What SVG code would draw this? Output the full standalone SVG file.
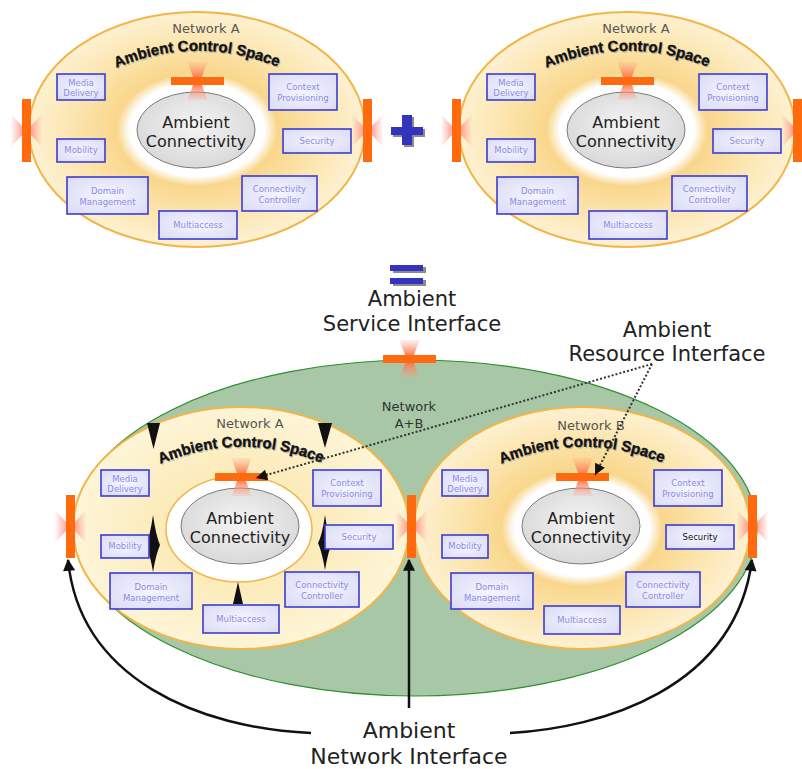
<svg xmlns="http://www.w3.org/2000/svg" xmlns:xlink="http://www.w3.org/1999/xlink" width="802" height="769" viewBox="0 0 802 769">
<style>
.t{font-family:"DejaVu Sans",Verdana,sans-serif;text-anchor:middle}
.big{font-size:21px;fill:#222}
.nb{font-size:22px;fill:#222}
.net{font-size:13px;fill:#555}
.ac{font-size:16px;fill:#222}
.bx rect{fill:url(#boxG);stroke:#3c3cd2;stroke-width:1.6}
.bx text{font-family:"DejaVu Sans",Verdana,sans-serif;font-size:8.5px;fill:#8c8ce6;text-anchor:middle}
.acs{font-family:"Liberation Sans",Arial,sans-serif;font-weight:bold;font-size:15px;text-anchor:middle}
.bar{fill:#ff6a0e}
.gray{fill:url(#grayG);stroke:#7a7a7a;stroke-width:1}
.outer{stroke:#f3b448;stroke-width:2}
.dot{fill:none;stroke:#333;stroke-width:2;stroke-dasharray:2 2}
.arc{fill:none;stroke:#111;stroke-width:2.5}
</style>
<defs>
<radialGradient id="outerG" cx="0.5" cy="0.5" r="0.5">
<stop offset="0" stop-color="#fff"/><stop offset="0.40" stop-color="#fff"/><stop offset="0.48" stop-color="#f9d68c"/><stop offset="0.65" stop-color="#fbe0a2"/><stop offset="0.88" stop-color="#fdecc2"/><stop offset="1" stop-color="#fdf1d2"/>
</radialGradient>
<radialGradient id="outerPale" cx="0.5" cy="0.5" r="0.5">
<stop offset="0" stop-color="#fdf0c4"/><stop offset="0.5" stop-color="#fcecbc"/><stop offset="1" stop-color="#fdf5d8"/>
</radialGradient>
<radialGradient id="grayG" cx="0.5" cy="0.45" r="0.6">
<stop offset="0" stop-color="#f5f5f5"/><stop offset="1" stop-color="#d6d6d6"/>
</radialGradient>
<radialGradient id="boxG" cx="0.5" cy="0.5" r="0.7">
<stop offset="0" stop-color="#f5f5ff"/><stop offset="1" stop-color="#dadaf6"/>
</radialGradient>
<linearGradient id="vGlow" x1="0" y1="0" x2="0" y2="1">
<stop offset="0" stop-color="#ff9a80" stop-opacity="0.15"/><stop offset="0.35" stop-color="#ff7a50" stop-opacity="0.85"/><stop offset="0.5" stop-color="#ff5a1e"/><stop offset="0.65" stop-color="#ff7a50" stop-opacity="0.85"/><stop offset="1" stop-color="#ff9a80" stop-opacity="0.15"/>
</linearGradient>
<linearGradient id="hGlow" x1="0" y1="0" x2="1" y2="0">
<stop offset="0" stop-color="#ff9090" stop-opacity="0"/><stop offset="0.42" stop-color="#ff7a60" stop-opacity="0.8"/><stop offset="0.58" stop-color="#ff7a60" stop-opacity="0.8"/><stop offset="1" stop-color="#ff9090" stop-opacity="0"/>
</linearGradient>
<path id="hg" d="M-10,-19 L10,-19 L3,0 L10,19 L-10,19 L-3,0 Z" fill="url(#vGlow)"/>
<path id="bt" d="M-16,-17 L-4,-4 L4,-4 L16,-17 L16,17 L4,4 L-4,4 L-16,17 Z" fill="url(#hGlow)"/>
<path id="arcA" d="M116,68 Q196,34 278,67"/>
<marker id="ah" viewBox="0 0 10 10" refX="10" refY="5" markerWidth="13" markerHeight="11" markerUnits="userSpaceOnUse" orient="auto"><path d="M0,0 L10,5 L0,10 Z" fill="#111"/></marker>
<marker id="ah2" viewBox="0 0 10 10" refX="9" refY="5" markerWidth="14" markerHeight="12" markerUnits="userSpaceOnUse" orient="auto"><path d="M0,0 L10,5 L0,10 Z" fill="#111"/></marker>
</defs>
<rect width="802" height="769" fill="#fff"/>

<!-- Network A top-left -->
<g id="net-tl">
<ellipse class="outer" cx="197" cy="129.5" rx="168" ry="117.5" fill="url(#outerG)"/>
<ellipse class="gray" cx="196" cy="130" rx="59" ry="38"/>
<text class="t ac" x="196" y="128">Ambient</text>
<text class="t ac" x="196" y="147">Connectivity</text>
<use href="#hg" x="197.5" y="81"/><rect class="bar" x="171" y="77" width="53" height="8"/>
<use href="#bt" x="26.5" y="130.5"/><rect class="bar" x="22" y="99" width="9" height="63"/>
<use href="#bt" x="367.5" y="130.5"/><rect class="bar" x="363" y="99" width="9" height="63"/>
<text class="t net" x="206" y="33">Network A</text>
<text class="acs" fill="#999" opacity="0.6" transform="translate(1,1.5)"><textPath href="#arcA" startOffset="50%">Ambient Control Space</textPath></text>
<text class="acs" fill="#111" stroke="#111" stroke-width="0.4"><textPath href="#arcA" startOffset="50%">Ambient Control Space</textPath></text>
<g class="bx" id="tl-media"><rect x="57" y="74" width="48" height="26"/><text x="81" y="86">Media</text><text x="81" y="96">Delivery</text></g>
<g class="bx" id="tl-context"><rect x="269" y="74" width="68" height="36"/><text x="303" y="90">Context</text><text x="303" y="101">Provisioning</text></g>
<g class="bx" id="tl-mobility"><rect x="57" y="139" width="48" height="23"/><text x="81" y="153">Mobility</text></g>
<g class="bx" id="tl-security"><rect x="283" y="129" width="68" height="24"/><text x="317" y="144">Security</text></g>
<g class="bx" id="tl-domain"><rect x="67" y="177" width="81" height="37"/><text x="107.5" y="194">Domain</text><text x="107.5" y="205">Management</text></g>
<g class="bx" id="tl-cc"><rect x="242" y="176" width="75" height="35"/><text x="279.5" y="192">Connectivity</text><text x="279.5" y="203">Controller</text></g>
<g class="bx" id="tl-multi"><rect x="159" y="211" width="78" height="28"/><text x="198" y="228">Multiaccess</text></g>
</g>

<!-- Network A top-right -->
<g id="net-tr" transform="translate(430,0)">
<ellipse class="outer" cx="197" cy="129.5" rx="168" ry="117.5" fill="url(#outerG)"/>
<ellipse class="gray" cx="196" cy="130" rx="59" ry="38"/>
<text class="t ac" x="196" y="128">Ambient</text>
<text class="t ac" x="196" y="147">Connectivity</text>
<use href="#hg" x="197.5" y="81"/><rect class="bar" x="171" y="77" width="53" height="8"/>
<use href="#bt" x="26.5" y="130.5"/><rect class="bar" x="22" y="99" width="9" height="63"/>
<use href="#bt" x="367.5" y="130.5"/><rect class="bar" x="363" y="99" width="9" height="63"/>
<text class="t net" x="206" y="33">Network A</text>
<text class="acs" fill="#999" opacity="0.6" transform="translate(1,1.5)"><textPath href="#arcA" startOffset="50%">Ambient Control Space</textPath></text>
<text class="acs" fill="#111" stroke="#111" stroke-width="0.4"><textPath href="#arcA" startOffset="50%">Ambient Control Space</textPath></text>
<g class="bx" id="tr-media"><rect x="57" y="74" width="48" height="26"/><text x="81" y="86">Media</text><text x="81" y="96">Delivery</text></g>
<g class="bx" id="tr-context"><rect x="269" y="74" width="68" height="36"/><text x="303" y="90">Context</text><text x="303" y="101">Provisioning</text></g>
<g class="bx" id="tr-mobility"><rect x="57" y="139" width="48" height="23"/><text x="81" y="153">Mobility</text></g>
<g class="bx" id="tr-security"><rect x="283" y="129" width="68" height="24"/><text x="317" y="144">Security</text></g>
<g class="bx" id="tr-domain"><rect x="67" y="177" width="81" height="37"/><text x="107.5" y="194">Domain</text><text x="107.5" y="205">Management</text></g>
<g class="bx" id="tr-cc"><rect x="242" y="176" width="75" height="35"/><text x="279.5" y="192">Connectivity</text><text x="279.5" y="203">Controller</text></g>
<g class="bx" id="tr-multi"><rect x="159" y="211" width="78" height="28"/><text x="198" y="228">Multiaccess</text></g>
</g>

<!-- plus and equals -->
<g id="plus">
<rect x="393" y="129" width="32" height="8" fill="#8a8a8a"/><rect x="404" y="117" width="10" height="30" fill="#8a8a8a"/>
<rect x="391" y="127" width="32" height="8" fill="#3333bb"/><rect x="402" y="115" width="10" height="30" fill="#3333bb"/>
</g>
<g id="equals">
<rect x="393" y="267" width="33" height="6" fill="#8a8a8a"/><rect x="393" y="280" width="33" height="6" fill="#8a8a8a"/>
<rect x="390" y="265" width="33" height="6" fill="#3333bb"/><rect x="390" y="278" width="33" height="6" fill="#3333bb"/>
</g>

<!-- Network A+B -->
<g id="net-ab">
<ellipse cx="415" cy="528" rx="342" ry="168" fill="#a7c7a7" stroke="#2f8f2f" stroke-width="1.2"/>
<text class="t net" x="409" y="411" fill="#333" style="fill:#333">Network</text>
<text class="t net" x="409" y="428" style="fill:#333">A+B</text>
</g>

<!-- Network A bottom-left -->
<g id="net-bl" transform="translate(44,396)">
<ellipse class="outer" cx="197" cy="132" rx="168" ry="121" fill="url(#outerPale)"/>
<ellipse cx="195" cy="133" rx="73" ry="53" fill="#fff" stroke="#f3b448" stroke-width="1.5"/>
<ellipse class="gray" cx="196" cy="130" rx="59" ry="38"/>
<text class="t ac" x="196" y="128">Ambient</text>
<text class="t ac" x="196" y="147">Connectivity</text>
<use href="#hg" x="197.5" y="81"/><rect class="bar" x="171" y="77" width="53" height="8"/>
<use href="#bt" x="26.5" y="130.5"/><rect class="bar" x="22" y="99" width="9" height="63"/>
<text class="t net" x="206" y="32">Network A</text>
<text class="acs" fill="#999" opacity="0.6" transform="translate(1,1.5)"><textPath href="#arcA" startOffset="50%">Ambient Control Space</textPath></text>
<text class="acs" fill="#111" stroke="#111" stroke-width="0.4"><textPath href="#arcA" startOffset="50%">Ambient Control Space</textPath></text>
<g id="bl-flows" fill="#111">
<path d="M103,27 L116,27 L109.5,53 Z"/>
<path d="M274,27 L288,27 L281,52 Z"/>
<path d="M109,119 Q112,140 116,149 Q112,158 109,176 Q106,158 102,149 Q106,140 109,119 Z"/>
<path d="M281,119 Q284,140 288,147 Q284,156 281,174 Q278,156 274,147 Q278,140 281,119 Z"/>
<path d="M194,186 L199,208 L189,208 Z"/>
</g>
<g class="bx" id="bl-media"><rect x="57" y="74" width="48" height="26"/><text x="81" y="86">Media</text><text x="81" y="96">Delivery</text></g>
<g class="bx" id="bl-context"><rect x="269" y="74" width="68" height="36"/><text x="303" y="90">Context</text><text x="303" y="101">Provisioning</text></g>
<g class="bx" id="bl-mobility"><rect x="57" y="139" width="48" height="23"/><text x="81" y="153">Mobility</text></g>
<g class="bx" id="bl-security"><rect x="281" y="129" width="68" height="24"/><text x="315" y="144">Security</text></g>
<g class="bx" id="bl-domain"><rect x="66" y="177" width="82" height="36"/><text x="107" y="194">Domain</text><text x="107" y="205">Management</text></g>
<g class="bx" id="bl-cc"><rect x="241" y="176" width="74" height="35"/><text x="278" y="192">Connectivity</text><text x="278" y="203">Controller</text></g>
<g class="bx" id="bl-multi"><rect x="159" y="209" width="76" height="28"/><text x="197" y="226">Multiaccess</text></g>
</g>

<!-- Network B bottom-right -->
<g id="net-br" transform="translate(385,396)">
<ellipse class="outer" cx="197" cy="132" rx="168" ry="121" fill="url(#outerG)"/>
<ellipse class="gray" cx="196" cy="130" rx="59" ry="38"/>
<text class="t ac" x="196" y="128">Ambient</text>
<text class="t ac" x="196" y="147">Connectivity</text>
<use href="#hg" x="197.5" y="81"/><rect class="bar" x="171" y="77" width="53" height="8"/>
<use href="#bt" x="26.5" y="130.5"/><rect class="bar" x="22" y="99" width="9" height="63"/>
<use href="#bt" x="367.5" y="130.5"/><rect class="bar" x="363" y="99" width="9" height="63"/>
<text class="t net" x="206" y="34">Network B</text>
<text class="acs" fill="#999" opacity="0.6" transform="translate(1,1.5)"><textPath href="#arcA" startOffset="50%">Ambient Control Space</textPath></text>
<text class="acs" fill="#111" stroke="#111" stroke-width="0.4"><textPath href="#arcA" startOffset="50%">Ambient Control Space</textPath></text>
<g class="bx" id="br-media"><rect x="57" y="74" width="46" height="26"/><text x="80" y="86">Media</text><text x="80" y="96">Delivery</text></g>
<g class="bx" id="br-context"><rect x="269" y="74" width="68" height="36"/><text x="303" y="90">Context</text><text x="303" y="101">Provisioning</text></g>
<g class="bx" id="br-mobility"><rect x="57" y="139" width="46" height="23"/><text x="80" y="153">Mobility</text></g>
<g class="bx" id="br-security"><rect x="281" y="129" width="68" height="24"/><text x="315" y="144" style="fill:#111">Security</text></g>
<g class="bx" id="br-domain"><rect x="66" y="177" width="82" height="36"/><text x="107" y="194">Domain</text><text x="107" y="205">Management</text></g>
<g class="bx" id="br-cc"><rect x="241" y="176" width="74" height="35"/><text x="278" y="192">Connectivity</text><text x="278" y="203">Controller</text></g>
<g class="bx" id="br-multi"><rect x="159" y="210" width="76" height="28"/><text x="197" y="227">Multiaccess</text></g>
</g>

<!-- Ambient Service Interface cross -->
<g id="asi-cross">
<use href="#hg" x="409.5" y="359"/><rect class="bar" x="383" y="355" width="53" height="8"/>
</g>

<!-- connectors -->
<g id="connectors">
<path class="dot" d="M652,364 L256,478" marker-end="url(#ah)"/>
<path class="dot" d="M652,364 L595,475" marker-end="url(#ah)"/>
<path class="arc" d="M311,733 C200,728 80,680 68,560" marker-end="url(#ah2)"/>
<path class="arc" d="M409,708 L409,560" marker-end="url(#ah2)"/>
<path class="arc" d="M510,733 C600,728 735,690 752,560" marker-end="url(#ah2)"/>
</g>

<!-- labels -->
<g id="labels">
<text class="t big" x="412" y="306">Ambient</text>
<text class="t big" x="412" y="331">Service Interface</text>
<text class="t big" x="667" y="337">Ambient</text>
<text class="t big" x="667" y="361">Resource Interface</text>
<text class="t nb" x="409" y="738">Ambient</text>
<text class="t nb" x="409" y="764">Network Interface</text>
</g>
</svg>
